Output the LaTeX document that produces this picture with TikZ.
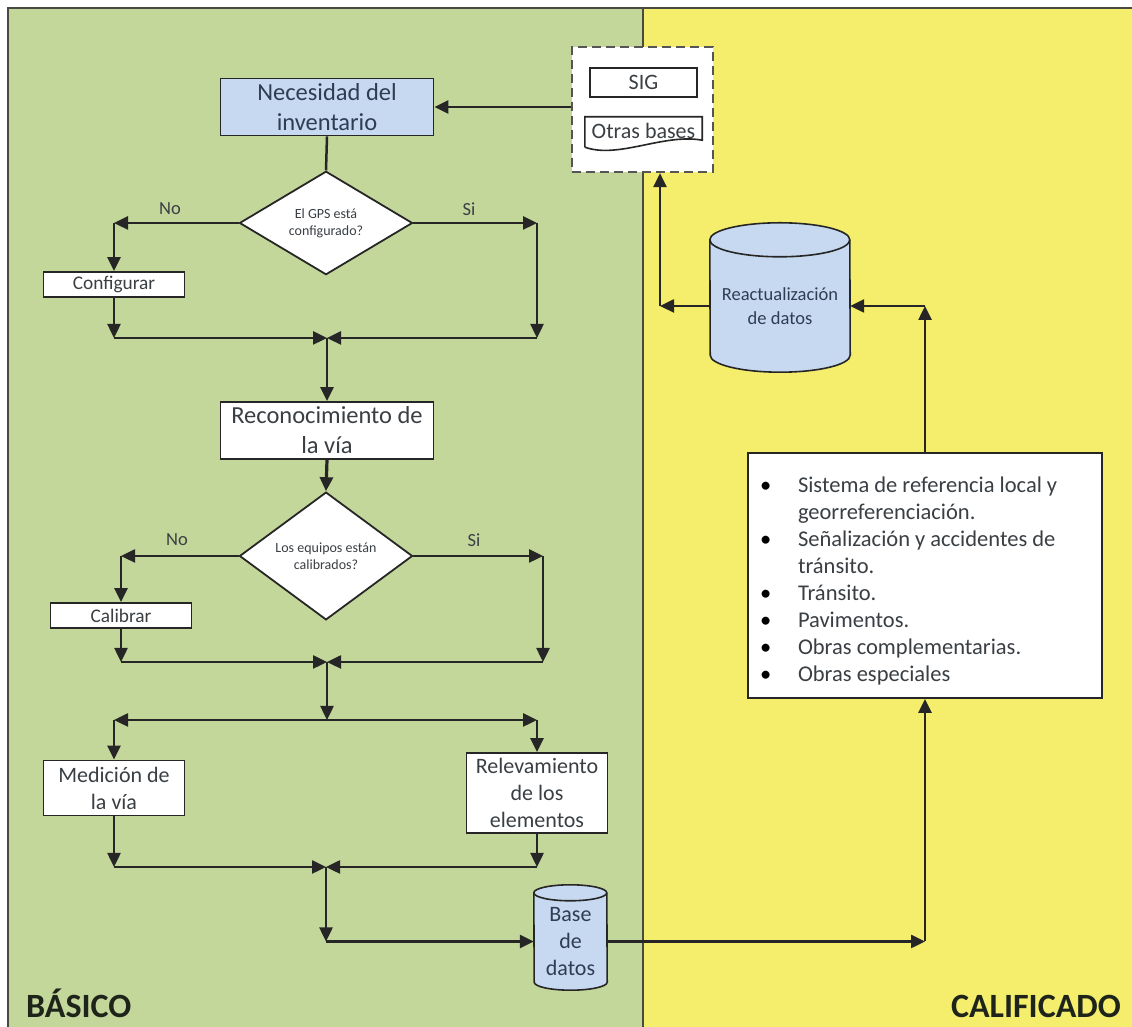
\documentclass[tikz,border=0pt]{standalone}
\usepackage{fontspec}
\setmainfont{Carlito}
\usepackage{tikz}
\usetikzlibrary{calc, arrows.meta, shapes.geometric, backgrounds}

\definecolor{basicogreen}{HTML}{C4D79B}
\definecolor{califyellow}{HTML}{F4EE6C}
\definecolor{boxblue}{HTML}{C6D9F1}
\definecolor{linegray}{HTML}{262626}
\definecolor{framegray}{HTML}{4A4A42}
\definecolor{dashgray}{HTML}{555555}
\definecolor{inkgray}{HTML}{3A3F44}
\definecolor{inkblue}{HTML}{2E3E52}
\definecolor{zoneink}{HTML}{1E241A}

\newcommand{\dbshape}[3]{%
  \draw[draw=linegray,line width=1.6pt,fill=boxblue] (#1.north west) arc[start angle=180,end angle=0,x radius=#2,y radius=#3] -- ($ (#1.south east) + (0,#3) $) arc[start angle=0,end angle=-180,x radius=#2,y radius=#3] -- cycle;
  \draw[draw=linegray,line width=1.6pt] (#1.north west) arc[start angle=180,end angle=360,x radius=#2,y radius=#3];}
\newcommand{\itm}[1]{\par\noindent\hangindent=38pt\hangafter=1\makebox[38pt][l]{\color{black}\textbullet}#1}

\begin{document}
\begin{tikzpicture}[x=1pt,y=1pt,
  >={Triangle[length=14pt,width=13pt]},
  flow/.style={->,draw=linegray,line width=2.5pt},
  proc/.style={rectangle,draw=linegray,line width=1.8pt,fill=white,text=inkgray,align=center,inner sep=0pt},
  bigproc/.style={proc,minimum width=213pt,minimum height=57pt,font=\fontsize{24.5}{30}\selectfont},
  smallproc/.style={proc,minimum width=141pt,minimum height=25pt,font=\fontsize{19.3}{23}\selectfont},
  midproc/.style={proc,minimum width=141pt,font=\fontsize{22}{27}\selectfont},
  decision/.style={diamond,draw=linegray,line width=1.8pt,fill=white,text=inkgray,align=center,inner sep=0pt,minimum width=173pt,minimum height=102pt,font=\fontsize{14}{17}\selectfont},
  answer/.style={text=inkgray,inner sep=0pt,font=\fontsize{18.5}{22}\selectfont},
  dbnode/.style={rectangle,inner sep=0pt,text=inkblue,align=center},
  zone/.style={inner sep=0pt,text=zoneink,font=\fontsize{34}{40}\selectfont\bfseries}]
\useasboundingbox (0,0) rectangle (1132,1027);
\begin{scope}[on background layer]
\fill[basicogreen] (8,0) rectangle (643,1019);
\fill[califyellow] (643,0) rectangle (1132,1019);
\draw[framegray,line width=2.2pt] (8,0) -- (8,1019) -- (1132,1019);
\draw[framegray,line width=2.2pt] (643,0) -- (643,1019);
\end{scope}

\draw node [bigproc,fill=boxblue,text=inkblue] (nec) at (327,920) {Necesidad del\\inventario};
\draw node [decision] (gps) at (326,804) {El GPS está\\configurado?};
\draw node [answer] (no1) at (170,818) {No};
\draw node [answer] (si1) at (469,818) {Si};
\draw node [smallproc] (conf) at (114,742.5) {Configurar};
\draw node [bigproc] (rec) at (327,596.5) {Reconocimiento de\\la vía};
\draw node [decision,minimum height=100pt] (cal) at (326,471) {Los equipos están\\calibrados?};
\draw node [answer] (no2) at (177,487) {No};
\draw node [answer] (si2) at (474,487) {Si};
\draw node [smallproc] (calib) at (121,411.5) {Calibrar};
\draw node [midproc,minimum height=55pt] (med) at (114,239) {Medición de\\la vía};
\draw node [midproc,minimum height=80pt] (rel) at (537,234) {Relevamiento\\de los\\elementos};
\draw node [dbnode,minimum width=73pt,minimum height=97pt,font=\fontsize{22}{27}\selectfont] (base) at (570.5,85.5) {Base\\de\\datos};
\draw node [dbnode,minimum width=140pt,minimum height=132pt,font=\fontsize{18.5}{24}\selectfont] (react) at (780,721) {Reactualización\\de datos};
\draw node [proc,text width=330pt,inner xsep=12pt,minimum height=245pt,align=left,font=\fontsize{22.5}{27}\selectfont] (bul) at (925,451.5)
  {\raggedright\spaceskip=0pt\xspaceskip=0pt\hyphenpenalty=10000
   \itm{Sistema de referencia local y georreferenciación.}
   \itm{Señalización y accidentes de tránsito.}
   \itm{Tránsito.}
   \itm{Pavimentos.}
   \itm{Obras complementarias.}
   \itm{Obras especiales}};
\draw node [draw=dashgray,dashed,dash pattern=on 9pt off 5pt,line width=2.2pt,fill=white,minimum width=141pt,minimum height=125pt] (sigbox) at (642.5,917.5) {};
\draw node [proc,minimum width=107pt,minimum height=29pt,font=\fontsize{22}{27}\selectfont] (sig) at (643.5,944.5) {SIG};
\draw node [inner sep=0pt,minimum width=117pt,minimum height=28pt,text=inkgray,font=\fontsize{22}{27}\selectfont] (otras) at (643.5,896) {Otras bases};
\draw[draw=linegray,line width=1.6pt] ($ (otras.south west) + (0,-2) $) -- (otras.north west) -- (otras.north east) -- ($ (otras.south east) + (0,5) $) .. controls ($ (otras.south) + (20,12) $) and ($ (otras.south) + (-25,-14) $) .. ($ (otras.south west) + (0,-2) $);
\draw node [zone,anchor=base west] (basico) at (26,9) {BÁSICO};
\draw node [zone,anchor=base east] (calif) at (1121,9) {CALIFICADO};

\begin{scope}[on background layer]
\dbshape{react}{70}{17}
\dbshape{base}{36.5}{8}
\end{scope}

\coordinate (m1) at (327,689);
\coordinate (m2) at (327,365);
\coordinate (sp) at (327,307);
\coordinate (m3) at (326,160);
\coordinate (gpsr) at (537,804);
\coordinate (calr) at (543,471);
\coordinate (upl) at ($ (sigbox.south) + (17.5,0) $);

\draw[flow] (sigbox.west |- nec.east) -- (nec.east);
\draw[draw=linegray,line width=2.5pt] (nec.south) -- (gps.north);
\draw[flow] (gps.west) -- (conf.north |- gps.west);
\draw[flow] (conf.north |- gps.west) -- (conf.north);
\draw[flow] (gps.east) -- (gpsr);
\draw[flow] (gpsr) -- (gpsr |- m1);
\draw[flow] (gpsr |- m1) -- (m1);
\draw[flow] (conf.south) -- (conf.south |- m1);
\draw[flow] (conf.south |- m1) -- (m1);
\draw[flow] (m1) -- (rec.north);

\draw[flow,line width=3.2pt] (rec.south) -- (cal.north);
\draw[flow] (cal.west) -- (calib.north |- cal.west);
\draw[flow] (calib.north |- cal.west) -- (calib.north);
\draw[flow] (cal.east) -- (calr);
\draw[flow] (calr) -- (calr |- m2);
\draw[flow] (calr |- m2) -- (m2);
\draw[flow] (calib.south) -- (calib.south |- m2);
\draw[flow] (calib.south |- m2) -- (m2);

\draw[flow] (m2) -- (sp);
\draw[flow] (sp) -- (med.north |- sp);
\draw[flow] (med.north |- sp) -- (med.north);
\draw[flow] (sp) -- (rel.north |- sp);
\draw[flow] (rel.north |- sp) -- (rel.north);
\draw[flow] (med.south) -- (med.south |- m3);
\draw[flow] (med.south |- m3) -- (m3);
\draw[flow] (rel.south) -- (rel.south |- m3);
\draw[flow] (rel.south |- m3) -- (m3);
\draw[flow] (m3) -- (m3 |- base.west);
\draw[flow] (m3 |- base.west) -- (base.west);

\draw[flow] (base.east) -- (bul.south |- base.east);
\draw[flow] (bul.south |- base.east) -- (bul.south);
\draw[flow] (bul.north) -- (bul.north |- react.east);
\draw[flow] (bul.north |- react.east) -- (react.east);
\draw[flow] (react.west) -- (upl |- react.west);
\draw[flow] (upl |- react.west) -- (upl);
\end{tikzpicture}
\end{document}
